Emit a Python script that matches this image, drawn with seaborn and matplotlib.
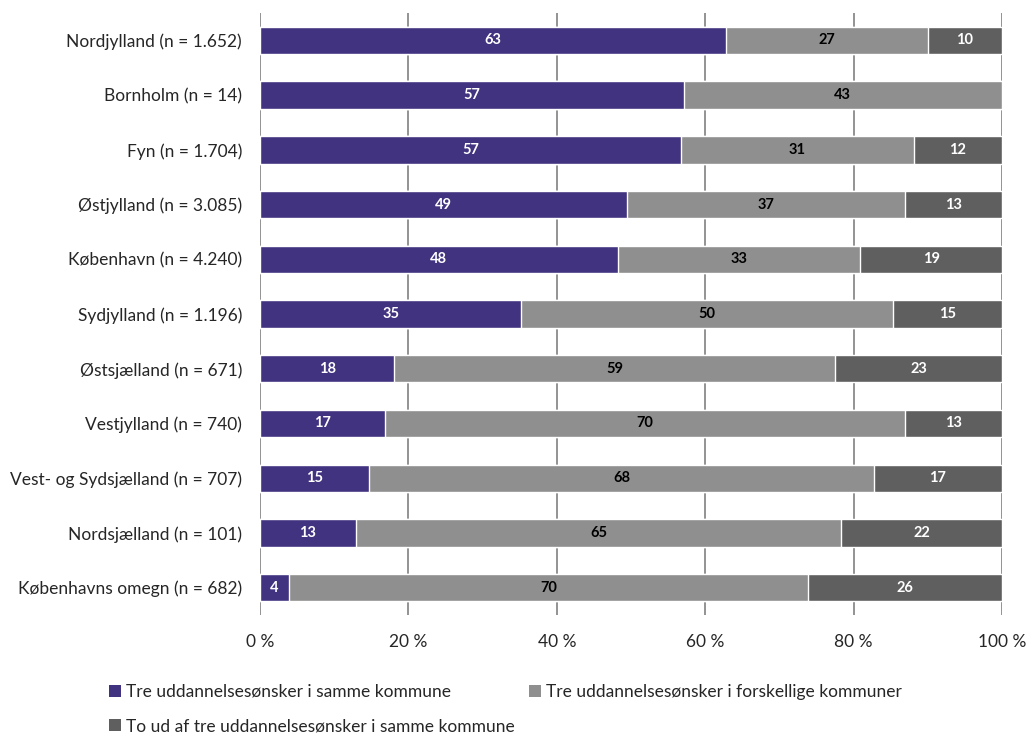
import numpy as np
import pandas as pd
import matplotlib
matplotlib.use("Agg")
import matplotlib.pyplot as plt
import seaborn as sns
from matplotlib.patches import Patch

regioner = [
    "Nordjylland (n = 1.652)",
    "Bornholm (n = 14)",
    "Fyn (n = 1.704)",
    "Østjylland (n = 3.085)",
    "København (n = 4.240)",
    "Sydjylland (n = 1.196)",
    "Østsjælland (n = 671)",
    "Vestjylland (n = 740)",
    "Vest- og Sydsjælland (n = 707)",
    "Nordsjælland (n = 101)",
    "Københavns omegn (n = 682)",
]
# søjlebredder (pct.)
samme = [62.8, 57.1, 56.7, 49.4, 48.2, 35.2, 18.1, 16.8, 14.7, 12.9, 3.9]
forskellige = [27.2, 42.9, 31.4, 37.5, 32.7, 50.1, 59.4, 70.1, 68.0, 65.4, 70.0]
to_af_tre = [10.0, 0.0, 11.9, 13.1, 19.1, 14.7, 22.5, 13.1, 17.3, 21.7, 26.1]
# talværdier som vist i søjlerne
lbl_samme = [63, 57, 57, 49, 48, 35, 18, 17, 15, 13, 4]
lbl_forskellige = [27, 43, 31, 37, 33, 50, 59, 70, 68, 65, 70]
lbl_to_af_tre = [10, None, 12, 13, 19, 15, 23, 13, 17, 22, 26]

serier = [
    "Tre uddannelsesønsker i samme kommune",
    "Tre uddannelsesønsker i forskellige kommuner",
    "To ud af tre uddannelsesønsker i samme kommune",
]
farver = ["#41337f", "#8f8f8f", "#5f5f5f"]
tekstfarver = ["white", "black", "white"]

sns.set_style("white")
plt.rcParams["font.family"] = ["Lato", "DejaVu Sans"]

df = pd.DataFrame({"region": regioner, "a": samme, "b": forskellige, "c": to_af_tre})
df["cum_a"] = df["a"]
df["cum_b"] = df["a"] + df["b"]
df["cum_c"] = df["a"] + df["b"] + df["c"]

fig = plt.figure(figsize=(10.27, 7.36), dpi=100)
ax = fig.add_axes([0.2532, 0.1644, 0.7225, 0.8179])

# stablede søjler: tegnes bagfra med kumulerede værdier
for kol, farve in zip(["cum_c", "cum_b", "cum_a"], farver[::-1]):
    sns.barplot(data=df, x=kol, y="region", orient="h", color=farve,
                width=0.5, saturation=1, ax=ax, zorder=3)

etiketter = [lbl_samme, lbl_forskellige, lbl_to_af_tre]
for i in range(len(regioner)):
    start = 0
    for kol, lbls, tf in zip(["a", "b", "c"], etiketter, tekstfarver):
        v = df.loc[i, kol]
        if lbls[i] is not None:
            ax.text(start + v / 2, i, str(lbls[i]), ha="center", va="center",
                    color=tf, fontsize=10.5, fontweight="bold", zorder=4)
        start += v

ax.set_xlim(0, 100)
ax.set_ylim(10.5, -0.5)
ax.set_xticks(np.arange(0, 101, 20))
ax.set_xticklabels([f"{t} %" for t in range(0, 101, 20)])
ax.xaxis.grid(True, color="#8a8a8a", linewidth=1.3, zorder=0)
ax.set_axisbelow(True)
for s in ax.spines.values():
    s.set_visible(False)
ax.tick_params(axis="x", length=0, pad=14, labelsize=12.5)
ax.tick_params(axis="y", length=0, pad=13, labelsize=12.5)
ax.set_xlabel("")
ax.set_ylabel("")

# rækkefølge så forklaringen læses rækkevis
orden = [0, 2, 1]
handles = [Patch(facecolor=farver[k], edgecolor="none") for k in orden]
fig.legend(handles, [serier[k] for k in orden], loc="upper left",
           bbox_to_anchor=(0.091, 0.092), ncol=2, frameon=False, fontsize=12.5,
           handlelength=0.7, handleheight=0.7, handletextpad=0.3,
           columnspacing=0.8, labelspacing=1.05)

fig.savefig("out.png", dpi=100)
